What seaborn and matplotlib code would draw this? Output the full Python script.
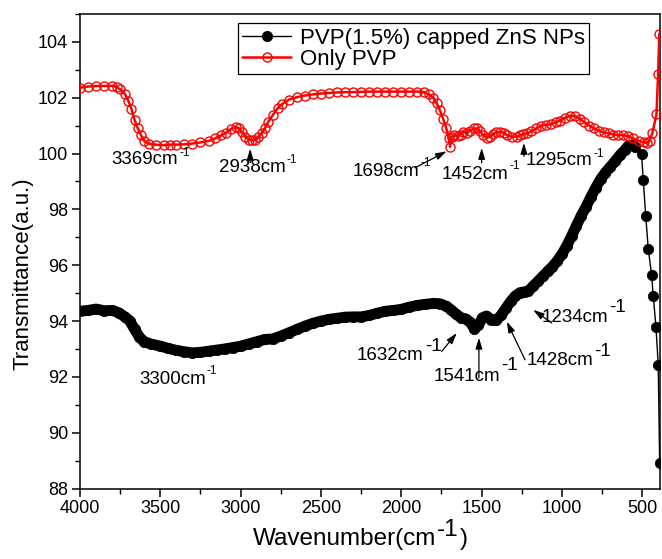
import matplotlib
matplotlib.use("Agg")
import matplotlib.pyplot as plt
from matplotlib.lines import Line2D
from matplotlib.ticker import MultipleLocator
import pandas as pd
import seaborn as sns

# ---------------- data ----------------
capped_wn = [4000, 3950, 3900, 3850, 3800, 3760, 3720, 3690, 3660, 3630, 3600, 3560,
             3500, 3450, 3400, 3350, 3300, 3250, 3200, 3150, 3100, 3050, 3000, 2950,
             2900, 2850, 2800, 2750, 2700, 2650, 2600, 2550, 2500, 2450, 2400, 2350,
             2300, 2250, 2200, 2150, 2100, 2050, 2000, 1950, 1900, 1850, 1800, 1760,
             1720, 1690, 1660, 1630, 1600, 1570, 1545, 1520, 1495, 1470, 1440, 1410,
             1380, 1350, 1320, 1290, 1260, 1230, 1210, 1180, 1150, 1120, 1090, 1060,
             1030, 1000, 970, 940, 910, 880, 850, 820, 790, 760, 730, 700, 670, 640,
             610, 587, 565, 546, 505, 494, 479, 463, 442, 432, 415, 401, 392]
capped_t = [94.35, 94.38, 94.43, 94.37, 94.38, 94.30, 94.15, 94.00, 93.70, 93.42, 93.26, 93.18,
            93.10, 93.02, 92.95, 92.90, 92.86, 92.88, 92.92, 92.96, 93.00, 93.05, 93.10, 93.18,
            93.26, 93.34, 93.36, 93.46, 93.58, 93.70, 93.82, 93.92, 94.00, 94.06, 94.10, 94.14,
            94.15, 94.15, 94.20, 94.28, 94.35, 94.38, 94.42, 94.50, 94.56, 94.60, 94.63, 94.62,
            94.53, 94.40, 94.25, 94.12, 94.08, 93.95, 93.72, 93.85, 94.12, 94.18, 94.05, 94.02,
            94.20, 94.45, 94.70, 94.90, 95.02, 95.05, 95.07, 95.25, 95.42, 95.60, 95.78, 95.95,
            96.15, 96.40, 96.70, 97.05, 97.42, 97.78, 98.10, 98.45, 98.78, 99.08, 99.32, 99.52,
            99.72, 99.94, 100.12, 100.28, 100.30, 100.24, 100.00, 99.04, 97.78, 96.58, 95.64,
            94.89, 93.79, 92.43, 88.90]

pvp_wn = [4000, 3950, 3900, 3850, 3800, 3770, 3750, 3720, 3700, 3680, 3660, 3640, 3620,
          3600, 3570, 3530, 3480, 3440, 3400, 3350, 3300, 3250, 3200, 3160, 3120, 3090,
          3060, 3030, 3010, 2990, 2970, 2950, 2930, 2910, 2890, 2870, 2850, 2830, 2800,
          2770, 2740, 2700, 2650, 2600, 2550, 2500, 2450, 2400, 2350, 2300, 2250, 2200,
          2150, 2100, 2050, 2000, 1950, 1900, 1860, 1830, 1800, 1780, 1760, 1740, 1720,
          1705, 1697, 1687, 1670, 1650, 1630, 1616, 1590, 1570, 1550, 1531, 1510, 1490,
          1469, 1450, 1430, 1410, 1386, 1360, 1340, 1310, 1282, 1260, 1240, 1220, 1190,
          1160, 1130, 1100, 1070, 1040, 1010, 980, 950, 920, 890, 860, 830, 800, 770,
          740, 710, 680, 650, 620, 590, 556, 520, 490, 473, 455, 437, 412, 402, 394]
pvp_t = [102.36, 102.40, 102.42, 102.42, 102.43, 102.38, 102.30, 102.13, 101.90, 101.60,
         101.20, 100.90, 100.65, 100.45, 100.35, 100.32, 100.30, 100.32, 100.32, 100.33,
         100.36, 100.40, 100.45, 100.54, 100.65, 100.75, 100.88, 100.95, 100.90, 100.76,
         100.60, 100.50, 100.47, 100.50, 100.58, 100.72, 100.90, 101.12, 101.38, 101.62,
         101.78, 101.93, 102.02, 102.08, 102.12, 102.15, 102.17, 102.19, 102.20, 102.20,
         102.21, 102.22, 102.22, 102.22, 102.22, 102.22, 102.22, 102.22, 102.20, 102.12,
         102.00, 101.80, 101.55, 101.25, 100.90, 100.55, 100.24, 100.60, 100.65, 100.62,
         100.68, 100.79, 100.75, 100.82, 100.90, 100.90, 100.80, 100.65, 100.57, 100.60,
         100.70, 100.76, 100.78, 100.75, 100.65, 100.60, 100.60, 100.65, 100.70, 100.72,
         100.80, 100.90, 101.00, 101.02, 101.05, 101.12, 101.18, 101.28, 101.35, 101.35,
         101.25, 101.12, 101.00, 100.90, 100.82, 100.76, 100.72, 100.68, 100.66, 100.66,
         100.62, 100.54, 100.45, 100.40, 100.38, 100.45, 100.75, 101.40, 102.85, 104.30]

series_names = ["PVP(1.5%) capped ZnS NPs", "Only PVP"]
x_ticks = [4000, 3500, 3000, 2500, 2000, 1500, 1000, 500]
y_ticks = [88, 90, 92, 94, 96, 98, 100, 102, 104]
peak_text = ["3369", "2938", "1698", "1452", "1295", "3300", "1632", "1541", "1428", "1234"]
x_title = ["Wavenumber(cm", "-1", ")"]
y_title = "Transmittance(a.u.)"

# ---------------- layout of the annotations ----------------
label_xy = [(3803, 99.79), (3136, 99.49), (2302, 99.35), (1747, 99.25), (1224, 99.75),
            (3633, 91.89), (2276, 92.75), (1797, 92.00), (1220, 92.57), (1126, 94.11)]
sup_big = [False, False, False, False, False, False, True, True, True, True]
sup_rise = [4.8, 5.6, 6.3, 6.1, 5.0, 6.1, 6.8, 7.9, 6.8, 7.8]
arrows = [None,
          ((2941, 99.67), (2941, 100.17)),
          ((1915, 99.49), (1718, 100.08)),
          ((1500, 99.67), (1500, 100.20)),
          ((1237, 99.90), (1237, 100.38)),
          None,
          ((1749, 92.91), (1655, 93.57)),
          ((1517, 91.96), (1517, 93.40)),
          ((1230, 92.61), (1344, 93.98)),
          ((1064, 93.93), (1179, 94.40))]

# ---------------- style ----------------
sns.set_style("ticks")
plt.rcParams["font.family"] = ["Liberation Sans", "DejaVu Sans"]
plt.rcParams["text.color"] = "black"
plt.rcParams["axes.labelcolor"] = "black"
plt.rcParams["xtick.color"] = "black"
plt.rcParams["ytick.color"] = "black"
plt.rcParams["axes.edgecolor"] = "black"

fig = plt.figure(figsize=(6.62, 5.59), dpi=100)
ax = fig.add_axes([80 / 662, 70.5 / 559, 580 / 662, 474.5 / 559])

df_c = pd.DataFrame({"wn": capped_wn, "T": capped_t})
df_p = pd.DataFrame({"wn": pvp_wn, "T": pvp_t})
band = df_c[df_c["wn"] >= 546]

sns.lineplot(data=band, x="wn", y="T", ax=ax, color="black", lw=7.8, sort=False,
             legend=False, errorbar=None, solid_capstyle="round",
             solid_joinstyle="round", zorder=2)
sns.lineplot(data=df_c, x="wn", y="T", ax=ax, color="black", lw=1.0, marker="o",
             ms=7.5, mec="black", mfc="black", mew=0.5, sort=False, legend=False,
             errorbar=None, zorder=3)
sns.lineplot(data=df_p, x="wn", y="T", ax=ax, color="red", lw=1.8, marker="o",
             ms=6.5, mfc="none", mec="red", mew=1.0, sort=False, legend=False,
             errorbar=None, zorder=4)

ax.set_xlim(4000, 390)
ax.set_ylim(88, 105)
ax.set_xticks(x_ticks)
ax.set_yticks(y_ticks)
ax.xaxis.set_minor_locator(MultipleLocator(250))
ax.yaxis.set_minor_locator(MultipleLocator(1))
ax.tick_params(which="major", direction="out", length=5.5, width=1.1, labelsize=13,
               pad=3, color="black", labelcolor="black", top=False, right=False)
ax.tick_params(which="minor", direction="out", length=3.5, width=1.0, color="black",
               top=False, right=False)
for s in ax.spines.values():
    s.set_visible(True)
    s.set_linewidth(1.1)
    s.set_color("black")

# legend
h_black = Line2D([], [], color="black", lw=1.0, marker="o", ms=7, mfc="black", mec="black")
h_red = Line2D([], [], color="red", lw=1.8, marker="o", ms=6.5, mfc="none", mec="red", mew=1.0)
leg = ax.legend([h_black, h_red], series_names, loc="upper left",
                bbox_to_anchor=(0.2724, 0.9804), borderaxespad=0, fontsize=16,
                frameon=True, fancybox=False, framealpha=1, edgecolor="black",
                handlelength=2.2, handletextpad=0.37, labelspacing=0.0, borderpad=0.2)
leg.get_frame().set_linewidth(0.9)
leg.set_zorder(10)
for t in leg.get_texts():
    t.set_color("black")

# peak annotations
for txt, (lx, ly), big, rise, arr in zip(peak_text, label_xy, sup_big, sup_rise, arrows):
    t = ax.text(lx, ly, txt + "cm", fontsize=13.5, ha="left", va="center",
                color="black", zorder=6)
    ax.annotate("-1", xy=(1, 0.5), xycoords=t, xytext=(0.7, rise),
                textcoords="offset points", ha="left", va="center", color="black",
                fontsize=13.5 if big else 8.5, zorder=6)
    if arr is not None:
        ax.annotate("", xy=arr[1], xytext=arr[0],
                    arrowprops=dict(arrowstyle="-|>,head_length=0.55,head_width=0.17",
                                    color="black", lw=0.9, shrinkA=0, shrinkB=0,
                                    mutation_scale=12), zorder=6)

# axis titles
ax.set_xlabel(x_title[0], fontsize=17.5, ha="left", va="top", color="black")
ax.xaxis.set_label_coords(0.298, -0.083)
xl = ax.xaxis.label
sup = ax.annotate(x_title[1], xy=(1, 1), xycoords=xl, xytext=(0.8, 6.5),
                  textcoords="offset points", ha="left", va="top", fontsize=17.5,
                  color="black", annotation_clip=False)
ax.annotate(x_title[2], xy=(1, 0.5), xycoords=(sup, xl), xytext=(0.5, 0),
            textcoords="offset points", ha="left", va="center", fontsize=17.5,
            color="black", annotation_clip=False)

ax.set_ylabel(y_title, fontsize=16, color="black")
ax.yaxis.set_label_coords(-0.081, 0.453)

fig.savefig("out.png", dpi=100)
